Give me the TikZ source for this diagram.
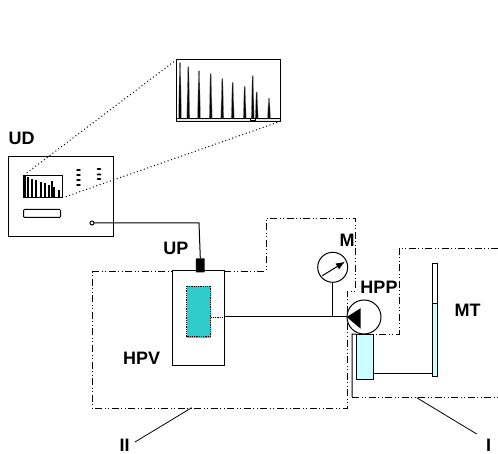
\documentclass[tikz,border=0pt]{standalone}
\usepackage{fontspec}
\setmainfont{Liberation Sans}
\usetikzlibrary{arrows.meta,calc,positioning}
\definecolor{oilphase}{RGB}{204,255,255}
\definecolor{samplephase}{RGB}{48,204,204}

\begin{document}
\begin{tikzpicture}[x=1pt,y=-1pt,
                    every node/.style={font=\fontsize{18}{18}\selectfont\bfseries,inner sep=0pt},
                    part/.style={draw,line width=1pt,inner sep=0pt,outer sep=0pt},
                    pipe/.style={line width=1pt},
                    zoomline/.style={line width=1pt,dash pattern=on 1pt off 2.6pt},
                    region/.style={line width=0.9pt,dash pattern=on 7pt off 2.5pt on 1pt off 2.5pt on 1pt off 2.5pt},
                    leader/.style={line width=0.8pt},
                    peak/.style={fill=black,draw=black!35,line width=0.3pt}]
  \useasboundingbox (0,0) rectangle (498,454);

  % --- regions I and II ----------------------------------------------------
  \draw[region] (92,271) -- (266,271) -- (266,218) -- (355,218) -- (355,291)
      -- (347,291) -- (347,408) -- (92,408) -- cycle;
  \draw[region] (498,248) -- (399,248) -- (399,334) -- (372,334);
  \draw[region] (352,397) -- (498,397);

  % --- readout unit UD -----------------------------------------------------
  \node[part,minimum width=105pt,minimum height=80pt] (ud) at (60.5,196.5) {};
  \node[part,minimum width=39pt,minimum height=22pt] (screen) at (43,186.5) {};
  \node[part,rounded corners=1pt,minimum width=37pt,minimum height=8pt] (slot) at (42,213.5) {};
  \foreach \y in {170,175,180,185}
    \fill (78.5,\y) ellipse (2.4pt and 1pt);
  \foreach \y in {169,174.5,179}
    \fill (99,\y) ellipse (2.4pt and 1pt);
  \foreach \x/\y in {28.3/177,31.7/179,36/180,40.7/182,45/183,48.7/185,52/181,54.3/187,58.7/190}
    \fill (\x-1,\y) rectangle (\x+1,197.5);
  \fill (23.5,175.5) rectangle (25.5,197.5);
  \node[part,circle,fill=white,minimum size=4pt] (socket) at (92,223) {};

  % --- enlarged spectrum ---------------------------------------------------
  \node[part,minimum width=104pt,minimum height=61.5pt] (spectrum) at (228,90.75) {};
  \node[part,fill=black!8,minimum width=104pt,minimum height=3.5pt] (baseline) at (228,120) {};
  \foreach \x/\y in {180/62.7,188.3/66.7,199/71,210.7/73.7,222.3/78.7,232.7/82.3,244.7/86.3,252.7/75.7,256.7/92,269/98.3}
    \draw[peak] (\x-1.5,118) -- (\x-0.5,\y) -- (\x+0.5,\y) -- (\x+1.5,118) -- cycle;
  \draw[line width=0.6pt,fill=white] (250.5,118.5) rectangle (255.5,120.5);

  \draw[zoomline] (26.7,173) -- (spectrum.north west);
  \draw[zoomline] (65.7,196.7) -- (spectrum.south east);

  % --- vessel HPV with probe UP ---------------------------------------------
  \node[part,fill=white,minimum width=52pt,minimum height=95pt] (hpv) at (198.7,318.2) {};
  \node[fill=samplephase,inner sep=0pt,minimum width=24.3pt,minimum height=51.7pt] (sample) at (198.85,311.85) {};
  \draw[line width=0.8pt,densely dotted] (186.7,286) rectangle (210.5,336.5);
  \node[fill=black,rounded corners=0.5pt,inner sep=0pt,minimum width=8.7pt,minimum height=14pt] (up) at (200.3,265.3) {};
  \draw[pipe] (socket.east) -- (199,223) -- (up.north);

  % --- pump, gauge, tanks ---------------------------------------------------
  \node[part,circle,fill=white,minimum size=34pt] (hpp) at (364,317) {};
  \node[part,circle,fill=white,minimum size=30pt] (gauge) at (332.7,267.3) {};
  \coordinate (hpvport) at (hpv.east |- hpp.west);
  \coordinate (tee) at (gauge.south |- hpp.west);
  \draw[line width=0.8pt,densely dotted] (sample.east |- hpp.west) -- (hpvport);
  \draw[pipe] (hpvport) -- (hpp.west);
  \draw[pipe] (gauge.south) -- (tee);
  \fill (346.7,317) -- (360.7,308.2) -- (360.7,328.7) -- cycle;
  \draw[line width=1pt,-{Latex[length=9pt,width=7pt]}] (322.3,275.7) -- (345,261.7);
  \node[part,fill=oilphase,minimum width=17.3pt,minimum height=45pt] (tank) at (365.3,356.8) {};
  \draw[pipe] (352,397) -- (352,334) -- (tank.north west);

  \node[part,fill=white,minimum width=5.3pt,minimum height=113pt] (mt) at (435.3,319.8) {};
  \node[part,fill=oilphase,minimum width=5.3pt,minimum height=72.6pt] (mtlevel) at (435.3,340) {};
  \coordinate (mtport) at (mt.west |- 0,373.7);
  \coordinate (tankport) at (tank.east |- 0,373.7);
  \draw[pipe] (tankport) -- (mtport);

  % --- leaders and labels ----------------------------------------------------
  \node (labII) at (124.5,445) {II};
  \node (labI) at (488.7,445) {I};
  \coordinate (legII) at (191.7,407.7);
  \coordinate (legI) at (416.7,397.7);
  \coordinate (endII) at (135,442);
  \coordinate (endI) at (476.7,434);
  \draw[leader] (legII) -- (endII);
  \draw[leader] (legI) -- (endI);

  \node (labUD) at (21.6,138.5) {UD};
  \node (labUP) at (176,248.7) {UP};
  \node (labHPV) at (141.7,358.5) {HPV};
  \node (labM) at (347,240.7) {M};
  \node (labHPP) at (379,287) {HPP};
  \node (labMT) at (467.7,310) {MT};
\end{tikzpicture}
\end{document}
